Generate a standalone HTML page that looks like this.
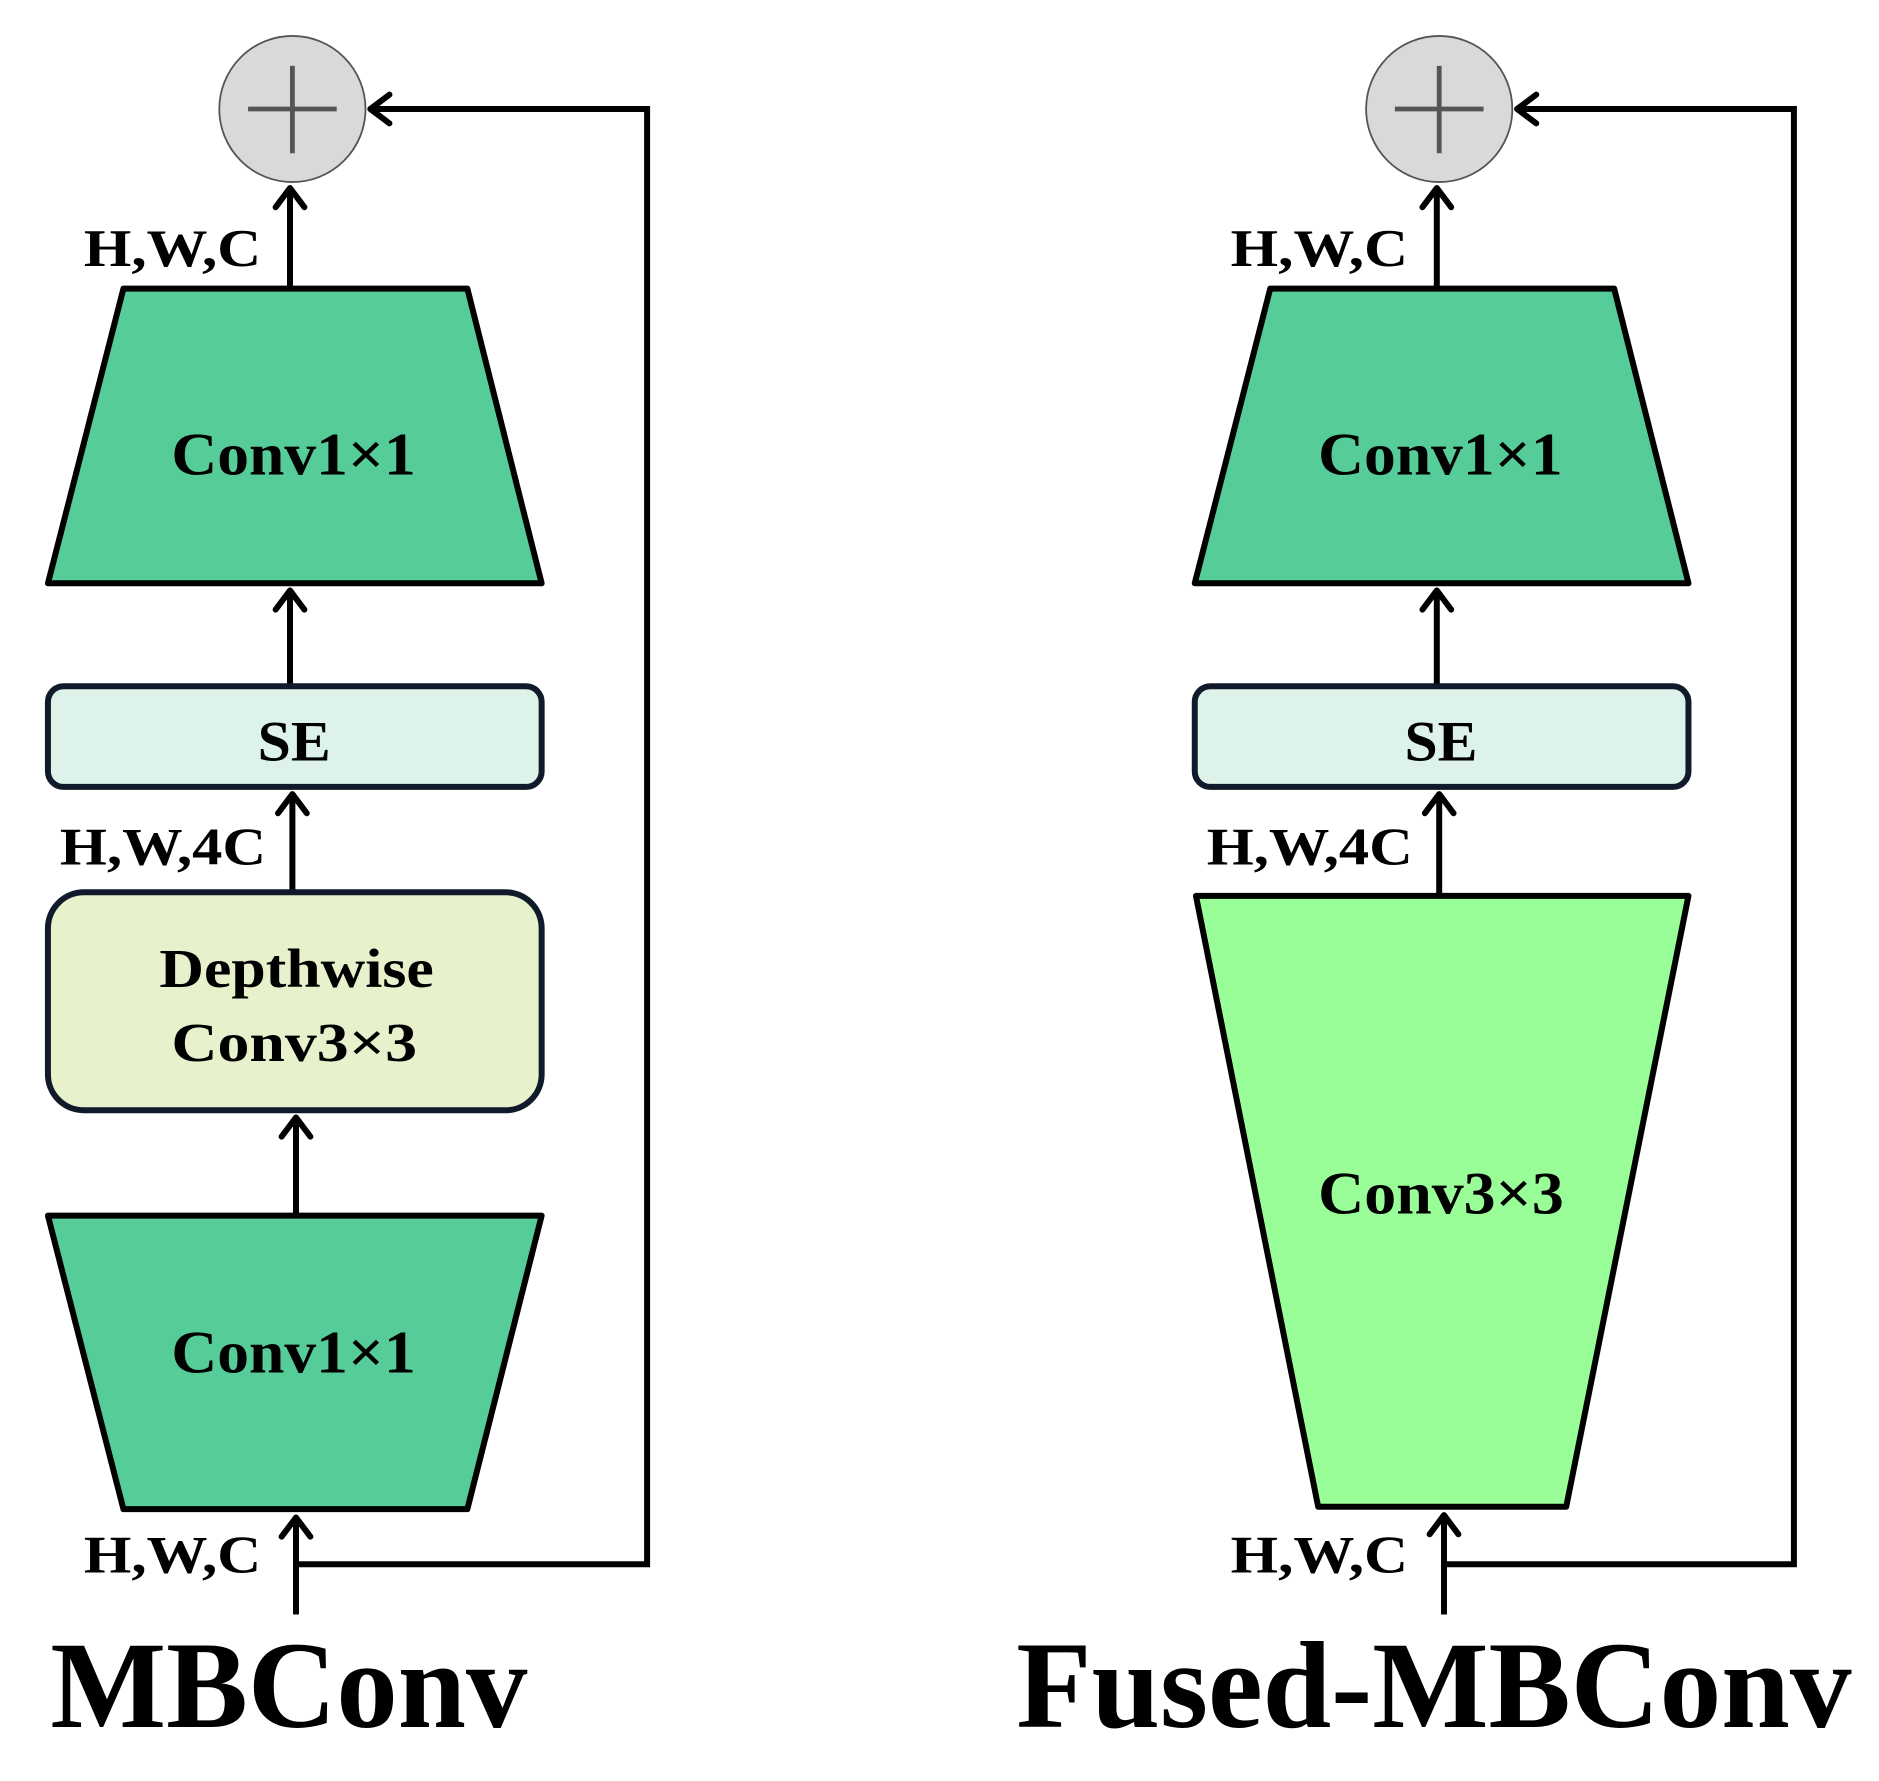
<!DOCTYPE html>
<html><head><meta charset="utf-8"><style>
html,body{margin:0;padding:0;background:#fff;}
svg{display:block;}
text{font-family:"Times New Roman","Liberation Serif",serif;font-weight:bold;fill:#000;}
</style></head><body>
<svg width="1879" height="1781" viewBox="0 0 1568 1487" preserveAspectRatio="none" xmlns="http://www.w3.org/2000/svg">
<defs>
<g id="arrowhead"><polyline points="-12,16 0,0 12,16" fill="none" stroke="#000" stroke-width="5" stroke-linecap="round" stroke-linejoin="round"/></g>
</defs>

<!-- LEFT: MBConv -->
<circle cx="244" cy="91" r="61" fill="#d9d9d9" stroke="#555" stroke-width="1.5"/>
<line x1="207" y1="91" x2="281" y2="91" stroke="#555" stroke-width="4"/>
<line x1="244" y1="55" x2="244" y2="128" stroke="#555" stroke-width="4"/>
<polyline points="247,1306 540,1306 540,91 310,91" fill="none" stroke="#000" stroke-width="5"/>
<use href="#arrowhead" transform="translate(309,91) rotate(-90)"/>
<line x1="242" y1="241" x2="242" y2="158" stroke="#000" stroke-width="5"/>
<use href="#arrowhead" transform="translate(242,157)"/>
<text x="70" y="222" font-size="44" textLength="148" lengthAdjust="spacingAndGlyphs">H,W,C</text>
<polygon points="103,241 390,241 452,487 40,487" fill="#56cc98" stroke="#000" stroke-width="5" stroke-linejoin="round"/>
<text x="143" y="396" font-size="50" textLength="204" lengthAdjust="spacingAndGlyphs">Conv1×1</text>
<line x1="242" y1="573" x2="242" y2="494" stroke="#000" stroke-width="5"/>
<use href="#arrowhead" transform="translate(242,493)"/>
<rect x="40" y="573" width="412" height="84" rx="13" fill="#ddf3ea" stroke="#111a2a" stroke-width="5"/>
<text x="215" y="635" font-size="48" textLength="61" lengthAdjust="spacingAndGlyphs">SE</text>
<line x1="244" y1="745" x2="244" y2="664" stroke="#000" stroke-width="5"/>
<use href="#arrowhead" transform="translate(244,663)"/>
<text x="50" y="722" font-size="44" textLength="172" lengthAdjust="spacingAndGlyphs">H,W,4C</text>
<rect x="40" y="745" width="412" height="182" rx="30" fill="#e7f2cc" stroke="#111a2a" stroke-width="5"/>
<text x="133" y="824" font-size="46" textLength="229" lengthAdjust="spacingAndGlyphs">Depthwise</text>
<text x="143" y="886" font-size="46" textLength="205" lengthAdjust="spacingAndGlyphs">Conv3×3</text>
<line x1="247" y1="1015" x2="247" y2="934" stroke="#000" stroke-width="5"/>
<use href="#arrowhead" transform="translate(247,933)"/>
<polygon points="40,1015 452,1015 390,1260 103,1260" fill="#56cc98" stroke="#000" stroke-width="5" stroke-linejoin="round"/>
<text x="143" y="1146" font-size="50" textLength="204" lengthAdjust="spacingAndGlyphs">Conv1×1</text>
<line x1="247" y1="1348" x2="247" y2="1268" stroke="#000" stroke-width="5"/>
<use href="#arrowhead" transform="translate(247,1267)"/>
<text x="70" y="1313" font-size="44" textLength="148" lengthAdjust="spacingAndGlyphs">H,W,C</text>
<text x="42" y="1442" font-size="104" textLength="398" lengthAdjust="spacingAndGlyphs">MBConv</text>

<!-- RIGHT: Fused-MBConv -->
<circle cx="1201" cy="91" r="61" fill="#d9d9d9" stroke="#555" stroke-width="1.5"/>
<line x1="1164" y1="91" x2="1238" y2="91" stroke="#555" stroke-width="4"/>
<line x1="1201" y1="55" x2="1201" y2="128" stroke="#555" stroke-width="4"/>
<polyline points="1205,1306 1497,1306 1497,91 1267,91" fill="none" stroke="#000" stroke-width="5"/>
<use href="#arrowhead" transform="translate(1266,91) rotate(-90)"/>
<line x1="1199" y1="241" x2="1199" y2="158" stroke="#000" stroke-width="5"/>
<use href="#arrowhead" transform="translate(1199,157)"/>
<text x="1027" y="222" font-size="44" textLength="148" lengthAdjust="spacingAndGlyphs">H,W,C</text>
<polygon points="1060,241 1347,241 1409,487 997,487" fill="#56cc98" stroke="#000" stroke-width="5" stroke-linejoin="round"/>
<text x="1100" y="396" font-size="50" textLength="204" lengthAdjust="spacingAndGlyphs">Conv1×1</text>
<line x1="1199" y1="573" x2="1199" y2="494" stroke="#000" stroke-width="5"/>
<use href="#arrowhead" transform="translate(1199,493)"/>
<rect x="997" y="573" width="412" height="84" rx="13" fill="#ddf3ea" stroke="#111a2a" stroke-width="5"/>
<text x="1172" y="635" font-size="48" textLength="61" lengthAdjust="spacingAndGlyphs">SE</text>
<line x1="1201" y1="748" x2="1201" y2="664" stroke="#000" stroke-width="5"/>
<use href="#arrowhead" transform="translate(1201,663)"/>
<text x="1007" y="722" font-size="44" textLength="172" lengthAdjust="spacingAndGlyphs">H,W,4C</text>
<polygon points="998,748 1409,748 1307,1258 1100,1258" fill="#9afe98" stroke="#000" stroke-width="5" stroke-linejoin="round"/>
<text x="1100" y="1013" font-size="50" textLength="205" lengthAdjust="spacingAndGlyphs">Conv3×3</text>
<line x1="1205" y1="1348" x2="1205" y2="1266" stroke="#000" stroke-width="5"/>
<use href="#arrowhead" transform="translate(1205,1265)"/>
<text x="1027" y="1313" font-size="44" textLength="148" lengthAdjust="spacingAndGlyphs">H,W,C</text>
<text x="848" y="1442" font-size="104" textLength="697" lengthAdjust="spacingAndGlyphs">Fused-MBConv</text>
</svg>
</body></html>
